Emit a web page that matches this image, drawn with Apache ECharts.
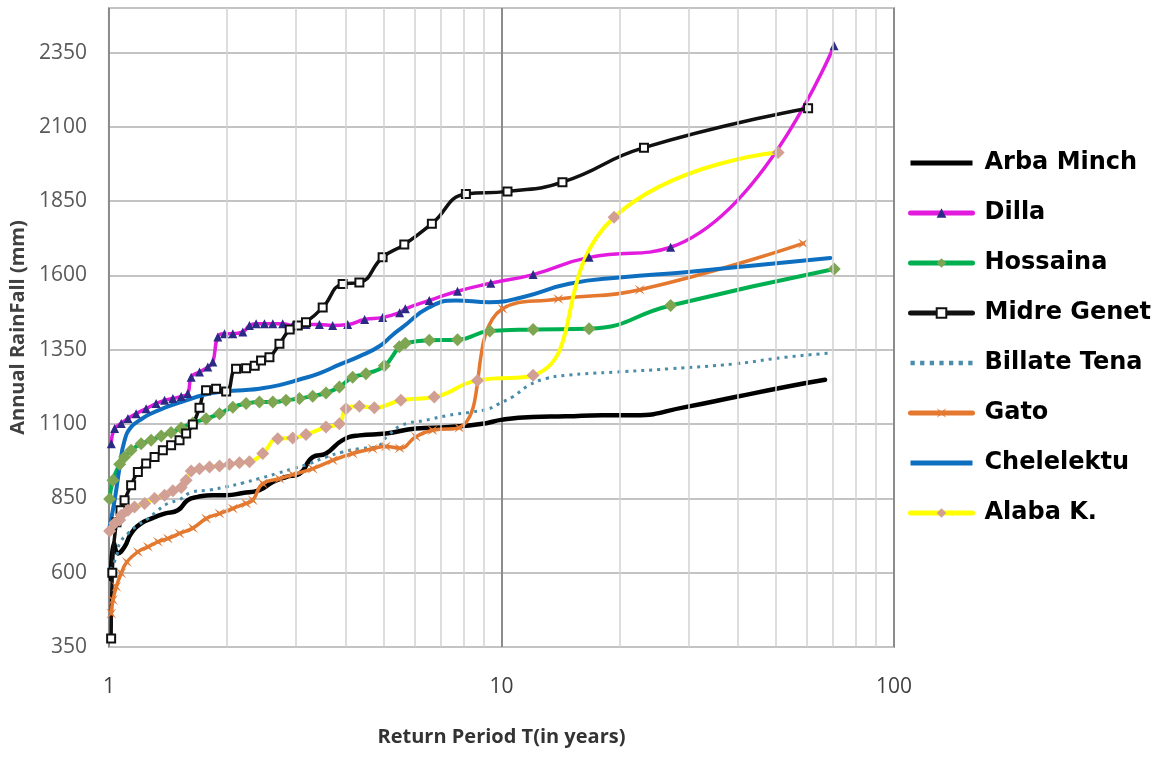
<!DOCTYPE html>
<html>
<head>
<meta charset="utf-8">
<script src="https://cdn.jsdelivr.net/npm/echarts@6/dist/echarts.min.js"></script>
<style>
  html, body { margin: 0; padding: 0; background: #ffffff; }
  #chart { width: 1163px; height: 759px; }
</style>
</head>
<body>
<div id="chart"></div>
<script>
// Return period T (years) and annual rainfall (mm) for each station
const arbaMinch = [[1.012,578],[1.030,700],[1.054,665],[1.096,687],[1.139,732],[1.208,766],[1.281,782],[1.386,799],[1.498,810],[1.588,844],[1.684,855],[1.839,861],[1.989,861],[2.193,868],[2.418,878],[2.615,905],[2.826,922],[3.057,933],[3.305,989],[3.573,1001],[3.939,1046],[4.345,1062],[5.077,1068],[6.052,1085],[7.361,1090],[8.946,1101],[10.06,1115],[11.99,1124],[14.58,1126],[18.07,1130],[21.93,1130],[29.38,1157],[39.39,1191],[52.81,1225],[66.75,1249]];

const dilla = [[1.014,1034],[1.034,1085],[1.075,1102],[1.118,1119],[1.173,1135],[1.244,1152],[1.319,1169],[1.386,1180],[1.455,1186],[1.528,1193],[1.588,1203],[1.620,1258],[1.701,1275],[1.786,1292],[1.839,1309],[1.894,1393],[1.970,1404],[2.068,1404],[2.193,1410],[2.280,1432],[2.371,1438],[2.490,1438],[2.615,1438],[2.771,1438],[2.939,1432],[3.177,1435],[3.437,1435],[3.715,1432],[4.057,1435],[4.481,1452],[4.980,1459],[5.502,1475],[5.689,1488],[6.546,1516],[7.727,1547],[9.393,1574],[12.04,1603],[16.72,1661],[26.97,1695],[70.36,2373]];

const hossaina = [[1.004,848],[1.024,911],[1.065,965],[1.096,989],[1.139,1012],[1.208,1034],[1.281,1046],[1.359,1060],[1.440,1072],[1.528,1087],[1.636,1104],[1.768,1118],[1.913,1135],[2.068,1157],[2.236,1169],[2.418,1174],[2.615,1174],[2.826,1180],[3.057,1186],[3.305,1194],[3.573,1205],[3.864,1225],[4.178,1258],[4.516,1269],[5.029,1296],[5.492,1360],[5.689,1372],[6.546,1382],[7.727,1384],[9.338,1413],[12.04,1418],[16.72,1421],[26.97,1499],[70.4,1622]];

const midreGenet = [[1.013,379],[1.020,600],[1.045,770],[1.070,810],[1.096,844],[1.139,894],[1.185,939],[1.244,967],[1.307,989],[1.372,1012],[1.440,1029],[1.513,1046],[1.573,1068],[1.636,1099],[1.701,1155],[1.768,1214],[1.875,1219],[1.989,1210],[2.108,1286],[2.236,1288],[2.352,1296],[2.441,1314],[2.564,1325],[2.719,1370],[2.888,1418],[3.027,1432],[3.177,1443],[3.504,1492],[3.939,1571],[4.345,1576],[4.980,1661],[5.655,1704],[6.648,1774],[8.116,1874],[10.36,1883],[14.30,1914],[23.07,2030],[60.42,2163]];

const billateTena = [[1.010,610],[1.044,653],[1.065,698],[1.118,732],[1.185,760],[1.257,782],[1.333,810],[1.413,833],[1.513,846],[1.636,872],[1.804,878],[1.989,889],[2.193,902],[2.418,917],[2.665,933],[2.939,950],[3.242,967],[3.573,989],[3.939,1006],[4.345,1017],[4.788,1023],[5.127,1060],[5.600,1097],[6.418,1113],[7.361,1130],[8.438,1141],[9.305,1152],[9.865,1169],[10.66,1191],[11.77,1231],[12.96,1253],[14.58,1264],[16.72,1270],[19.50,1275],[26.72,1286],[39.46,1303],[52.89,1325],[68.87,1339]];

const gato = [[1.014,463],[1.024,508],[1.044,553],[1.075,598],[1.111,636],[1.185,670],[1.257,687],[1.333,704],[1.413,715],[1.513,732],[1.636,750],[1.768,782],[1.913,799],[2.068,816],[2.236,833],[2.325,844],[2.465,900],[2.719,916],[2.939,930],[3.305,950],[3.715,978],[4.178,1001],[4.697,1017],[5.077,1025],[5.502,1019],[6.052,1057],[6.674,1079],[7.805,1088],[10.06,1488],[13.96,1521],[22.51,1552],[58.67,1708]];

const chelelektu = [[1.004,754],[1.034,844],[1.065,956],[1.096,1045],[1.139,1090],[1.199,1113],[1.269,1133],[1.399,1157],[1.573,1180],[1.734,1197],[1.913,1208],[2.193,1214],[2.418,1219],[2.719,1231],[3.057,1250],[3.437,1271],[3.864,1300],[4.345,1328],[4.885,1362],[5.280,1400],[5.600,1426],[6.546,1493],[7.651,1516],[9.305,1510],[11.31,1527],[14.87,1572],[20.32,1594],[29.44,1611],[48.0,1639],[68.87,1659]];

const alabaK = [[1.004,740],[1.034,766],[1.065,777],[1.075,793],[1.118,810],[1.162,821],[1.233,833],[1.307,850],[1.386,861],[1.455,876],[1.528,887],[1.573,911],[1.620,942],[1.701,950],[1.804,956],[1.913,959],[2.028,965],[2.150,970],[2.280,973],[2.465,1001],[2.692,1051],[2.939,1053],[3.177,1065],[3.573,1090],[3.864,1101],[4.017,1152],[4.345,1160],[4.743,1155],[5.544,1180],[6.742,1191],[8.690,1247],[12.04,1264],[19.36,1796],[50.68,2014]];

const stationNames = ['Arba Minch', 'Dilla', 'Hossaina', 'Midre Genet', 'Billate Tena', 'Gato', 'Chelelektu', 'Alaba K.'];
const periodLabels = [1, 10, 100];
const minorPeriods = [2, 3, 4, 5, 6, 7, 8, 9, 20, 30, 40, 50, 60, 70, 80, 90];
const rainfallMin = 350, rainfallMax = 2500, rainfallStep = 250;

// marker and legend glyphs
const starPath = 'path://M0,0 L5,3.5 L10,0 L6.5,5 L10,10 L5,6.5 L0,10 L3.5,5 Z';
const barIcon = 'path://M0,0 H62 V5 H0 Z';
const dotsIcon = 'path://M0,0h4v4h-4z M9,0h4v4h-4z M18,0h4v4h-4z M27,0h4v4h-4z M36,0h4v4h-4z M45,0h4v4h-4z M54,0h4v4h-4z';
const legendIcons = { 'Arba Minch': barIcon, 'Billate Tena': dotsIcon, 'Chelelektu': barIcon };

function station(name, data, line, marker) {
  const s = {
    name: name,
    type: 'line',
    data: data,
    smooth: 0.5,
    showAllSymbol: true,
    lineStyle: Object.assign({ width: 4, cap: 'round', join: 'round' }, line),
    itemStyle: { color: line.color },
    symbol: 'none',
    emphasis: { disabled: true }
  };
  if (marker) {
    s.symbol = marker.symbol;
    s.symbolSize = marker.size;
    s.itemStyle = marker.style;
  }
  return s;
}

const chart = echarts.init(document.getElementById('chart'), null, { renderer: 'canvas' });

chart.setOption({
  animation: false,
  backgroundColor: '#ffffff',
  grid: {
    left: 105, right: 269, top: 8, bottom: 112,
    show: true, borderColor: '#a6a6a6', borderWidth: 2, backgroundColor: 'transparent'
  },
  legend: {
    data: stationNames.map(n => (legendIcons[n] ? { name: n, icon: legendIcons[n] } : { name: n })),
    orient: 'vertical',
    left: 903, top: 146,
    itemWidth: 62, itemHeight: 12, itemGap: 26,
    selectedMode: false,
    lineStyle: { width: 5 },
    textStyle: {
      fontFamily: 'DejaVu Sans', fontWeight: 'bold', fontSize: 24,
      color: '#000000', lineHeight: 24, padding: [0, 0, 0, 7]
    }
  },
  xAxis: {
    type: 'log', logBase: 10, min: 1, max: 100,
    name: 'Return Period T(in years)',
    nameLocation: 'middle', nameGap: 80,
    nameTextStyle: { fontFamily: 'Liberation Sans Narrow, Open Sans', fontWeight: 'bold', fontSize: 20, color: '#333333' },
    axisLine: { show: false },
    axisTick: { show: false },
    axisLabel: {
      fontFamily: 'Open Sans', fontSize: 21, color: '#404040', margin: 30,
      formatter: v => (periodLabels.indexOf(Math.round(v)) >= 0 ? String(Math.round(v)) : '')
    },
    splitLine: { show: true, lineStyle: { color: '#8c8c8c', width: 2 } }
  },
  yAxis: {
    type: 'value', min: rainfallMin, max: rainfallMax, interval: rainfallStep,
    name: 'Annual RainFall (mm)',
    nameLocation: 'middle', nameGap: 75, nameRotate: 90,
    nameTextStyle: { fontFamily: 'Open Sans', fontWeight: 'bold', fontSize: 20, color: '#404040' },
    axisLine: { show: false },
    axisTick: { show: false },
    axisLabel: {
      fontFamily: 'Open Sans', fontSize: 21, color: '#595959', margin: 22, showMaxLabel: false,
      formatter: v => String(v)
    },
    splitLine: { show: true, lineStyle: { color: '#c3c3c3', width: 2 } }
  },
  series: [
    {
      name: 'minor-periods', type: 'line', data: [], z: 1, silent: true,
      markLine: {
        silent: true, symbol: 'none', label: { show: false },
        lineStyle: { color: '#d2d2d2', width: 1.5, type: 'solid' },
        data: minorPeriods.map(p => ({ xAxis: p }))
      }
    },
    station('Arba Minch', arbaMinch, { color: '#000000', width: 4.5 }),
    station('Dilla', dilla, { color: '#e31bdf', width: 3.5 },
      { symbol: 'triangle', size: 9, style: { color: '#2b2a85' } }),
    station('Hossaina', hossaina, { color: '#00b050', width: 4 },
      { symbol: 'diamond', size: 13, style: { color: '#7ea552' } }),
    station('Midre Genet', midreGenet, { color: '#111111', width: 3.5 },
      { symbol: 'rect', size: 8, style: { color: '#ffffff', borderColor: '#111111', borderWidth: 2 } }),
    station('Billate Tena', billateTena, { color: '#4a8daa', width: 3, type: [3, 5], cap: 'butt' }),
    station('Gato', gato, { color: '#e5782f', width: 3.5 },
      { symbol: starPath, size: 10, style: { color: '#e07a35' } }),
    station('Chelelektu', chelelektu, { color: '#0e6fc0', width: 4 }),
    station('Alaba K.', alabaK, { color: '#ffff00', width: 4 },
      { symbol: 'diamond', size: 13, style: { color: '#d29f94' } })
  ]
});
</script>
</body>
</html>
